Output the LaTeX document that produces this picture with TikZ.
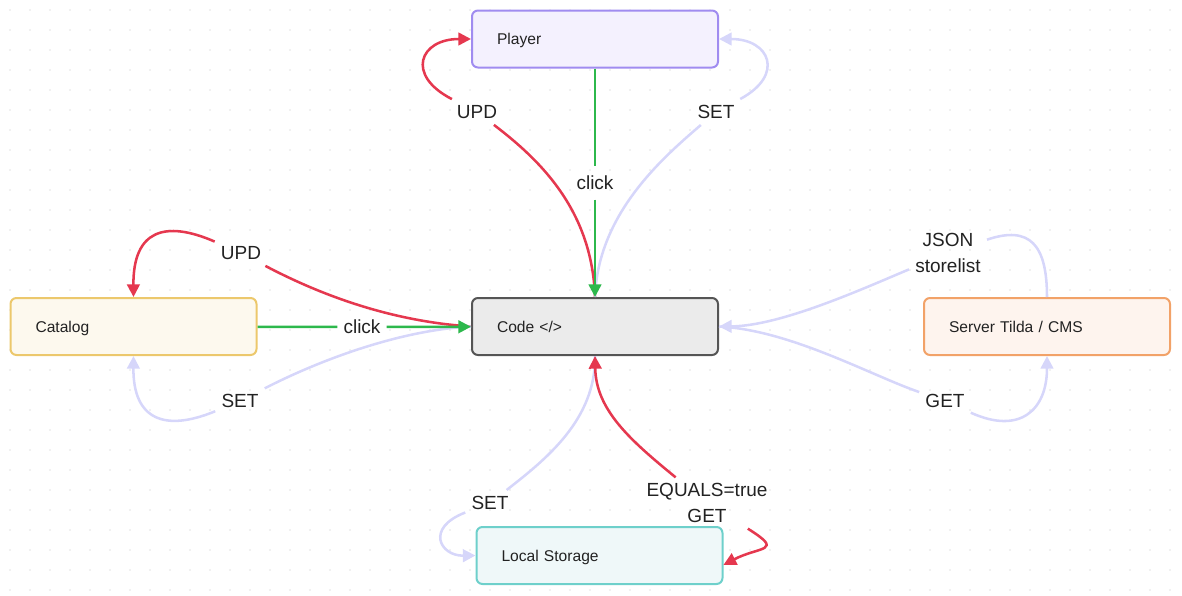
\documentclass[tikz,border=0pt]{standalone}
\usepackage{fontspec}
\setmainfont{Liberation Sans}
\usetikzlibrary{arrows.meta}

\definecolor{inkgray}{HTML}{222222}
\definecolor{dotgray}{HTML}{E2E2E2}
\definecolor{updred}{HTML}{E5384F}
\definecolor{clickgreen}{HTML}{2DB84C}
\definecolor{setlav}{HTML}{D6D6FA}

\begin{document}
\begin{tikzpicture}[x=0.75pt,y=0.75pt,yscale=-1,xscale=1,
    box/.style={draw, rounded corners=4.5pt, line width=1.5pt, minimum height=42.75pt,
        text width=147pt, inner xsep=18.75pt, align=left, text=inkgray, text depth=0pt,
        font=\fontsize{11.7}{14}\selectfont},
    lbl/.style={inner sep=4.5pt, align=center, text=inkgray,
        font=\fontsize{14.25}{19}\selectfont},
    upd/.style={draw=updred, line width=1.9pt},
    click/.style={draw=clickgreen, line width=1.9pt},
    setl/.style={draw=setlav, line width=1.9pt},
    tip/.style={-{Triangle[length=9.5pt,width=9.5pt]}}]
        \useasboundingbox (0,0) rectangle (1182,596);

        % dot grid
        \foreach \gx in {10,30,...,1170} {
            \foreach \gy in {10,30,...,590} {
                \fill [dotgray] (\gx,\gy) circle (0.9);
            }
        }

        % Boxes
        \node (player) [box, draw={rgb, 255:red, 160; green, 140; blue, 240}, fill={rgb, 255:red, 244; green, 241; blue, 254}] at (595,39) {Player};
        \node (code) [box, draw={rgb, 255:red, 85; green, 85; blue, 85}, fill={rgb, 255:red, 235; green, 235; blue, 235}] at (595,326.5) {Code </>};
        \node (catalog) [box, draw={rgb, 255:red, 236; green, 200; blue, 108}, fill={rgb, 255:red, 253; green, 249; blue, 238}] at (133.5,326.5) {Catalog};
        \node (server) [box, draw={rgb, 255:red, 242; green, 162; blue, 104}, fill={rgb, 255:red, 254; green, 244; blue, 238}] at (1047,326.5) {Server Tilda / CMS};
        \node (storage) [box, draw={rgb, 255:red, 110; green, 208; blue, 203}, fill={rgb, 255:red, 239; green, 248; blue, 249}] at (599.5,555.5) {Local Storage};

        % Labels
        \node (updplayer) [lbl] at (477,112) {UPD};
        \node (setplayer) [lbl] at (716,112) {SET};
        \node (clickplayer) [lbl, inner ysep=7pt] at (595,183) {click};
        \node (updcatalog) [lbl] at (241,253) {UPD};
        \node (setcatalog) [lbl] at (240,401) {SET};
        \node (clickcatalog) [lbl] at (362,327) {click};
        \node (json) [lbl] at (948,253) {JSON\\storelist};
        \node (get) [lbl] at (945,401) {GET};
        \node (setstorage) [lbl] at (490,503) {SET};
        \node (equals) [lbl] at (707,503) {EQUALS=true\\GET};

        % Player
        \draw [upd] (code.north) .. controls (592,210) and (540,160) .. (updplayer);
        \draw [upd, tip] (updplayer) .. controls (405,75) and (420,39) .. (player.west);
        \draw [setl] (code.north) .. controls (598,215) and (660,160) .. (setplayer);
        \draw [setl, tip] (setplayer) .. controls (785,75) and (770,39) .. (player.east);
        \draw [click] (player) -- (clickplayer);
        \draw [click, tip] (clickplayer) -- (code);

        % Catalog
        \draw [upd] (code.west) .. controls (400,322) and (330,300) .. (updcatalog);
        \draw [upd, tip] (updcatalog) .. controls (165,220) and (133,230) .. (catalog.north);
        \draw [setl] (code.west) .. controls (400,330) and (320,360) .. (setcatalog);
        \draw [setl, tip] (setcatalog) .. controls (165,432) and (133,420) .. (catalog.south);
        \draw [click] (catalog) -- (clickcatalog);
        \draw [click, tip] (clickcatalog) -- (code);

        % Server
        \draw [setl] (server.north) .. controls (1047,245) and (1030,225) .. (json);
        \draw [setl, tip] (json) .. controls (860,290) and (780,326) .. (code.east);
        \draw [setl] (code.east) .. controls (790,330) and (870,375) .. (get);
        \draw [setl, tip] (get) .. controls (1020,435) and (1047,410) .. (server.south);

        % Local Storage
        \draw [setl] (code.south) .. controls (596,420) and (545,460) .. (setstorage);
        \draw [setl, tip] (setstorage) .. controls (425,528) and (440,556) .. (storage.west);
        \draw [upd, tip] (equals) .. controls (630,440) and (596,410) .. (code.south);
        \draw [upd, tip] (equals) .. controls (785,552) and (760,546) .. ([yshift=7pt]storage.east);

\end{tikzpicture}
\end{document}
